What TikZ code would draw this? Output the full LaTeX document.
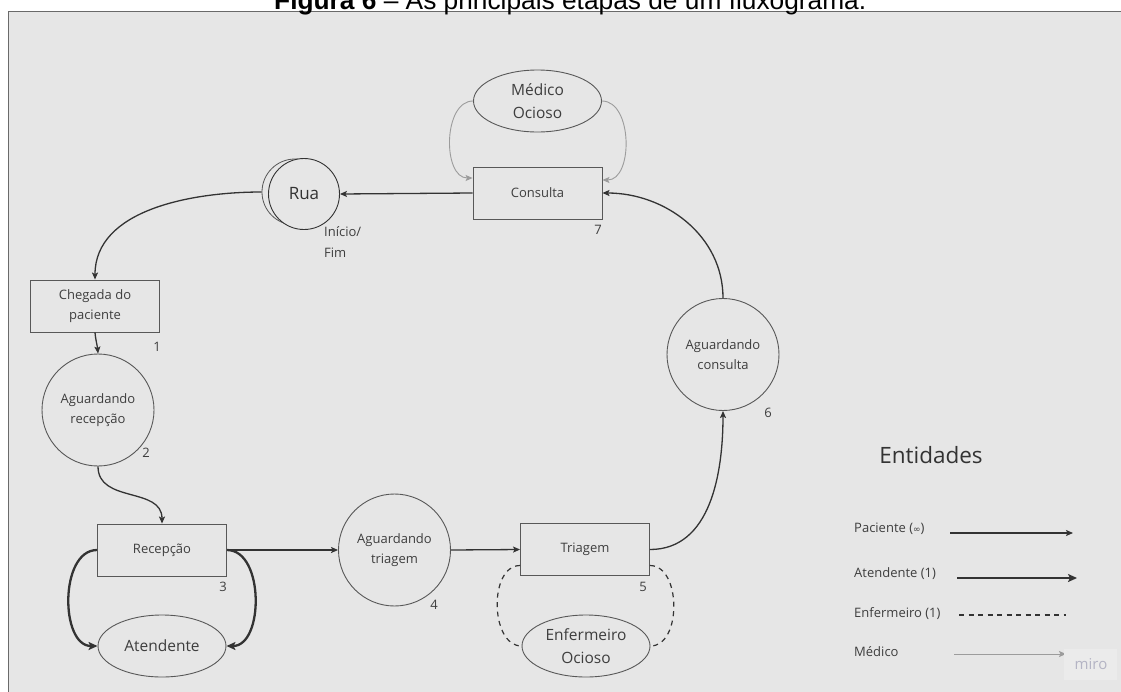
\documentclass[tikz,border=0pt]{standalone}
\usepackage{fontspec}
\setmainfont{Open Sans}
\newfontfamily\titlefont{Liberation Sans}
\newfontfamily\symbolfont{DejaVu Sans}
\usetikzlibrary{shapes.geometric,arrows.meta}

\definecolor{canvas}{HTML}{E6E6E6}
\definecolor{framecol}{HTML}{6A6A6A}
\definecolor{ink}{HTML}{333333}
\definecolor{outline}{HTML}{585858}
\definecolor{label}{HTML}{3E3E3E}
\definecolor{doctorline}{HTML}{9C9C9C}
\definecolor{wmark}{HTML}{B4B4C4}
\definecolor{wmarkbg}{HTML}{EBEBEB}

\tikzset{
  base/.style={text=label, font=\fontsize{13}{20}\selectfont, align=center, inner sep=0pt},
  proc/.style={base, rectangle, draw=outline, line width=0.9pt,
    minimum width=129pt, minimum height=52pt},
  ring/.style={base, circle, draw=outline, line width=0.9pt, minimum size=112pt},
  resource/.style={base, ellipse, draw=outline, line width=0.9pt,
    minimum width=128pt, minimum height=62pt, font=\fontsize{15.5}{23}\selectfont},
  num/.style={text=label, font=\fontsize{13}{16}\selectfont, inner sep=0pt},
  legendtext/.style={text=label, font=\fontsize{13}{16}\selectfont, inner sep=0pt, anchor=west},
  tip/.style={-{Stealth[length=7pt,width=6pt,inset=1.5pt]}},
  pflow/.style={tip, draw=ink, line width=1.3pt},
  aflow/.style={-{Stealth[length=9pt,width=8pt,inset=2pt]}, draw=ink, line width=2.3pt},
  nflow/.style={draw=ink, line width=1.2pt, dash pattern=on 5pt off 4.5pt},
  mflow/.style={tip, draw=doctorline, line width=0.9pt},
}

\begin{document}
\begin{tikzpicture}[x=1pt,y=-1pt]
\useasboundingbox (0,0) rectangle (1121,691);
\clip (0,0) rectangle (1121,691);
\fill[white] (0,0) rectangle (1121,691);

% board
\fill[canvas] (8.5,11.5) rectangle (1130,700);
\draw[framecol, line width=1pt] (8.5,700) -- (8.5,11.5) -- (1130,11.5);

% caption
\node[anchor=base west, inner sep=0pt, text=black,
  font=\titlefont\fontsize{26.3}{30}\selectfont] (caption) at (274,9)
  {\textbf{Figura 6} – As principais etapas de um fluxograma.};

% top: consultation and street
\node[proc] (consulta) at (537.5,193) {Consulta};
\node[resource] (medico) at (537.5,101) {Médico\\Ocioso};
\node[circle, draw=outline, line width=0.8pt, minimum size=66pt] (ruaback) at (295,192) {};
\node[circle, draw=ink, line width=0.9pt, fill=canvas, minimum size=71pt,
  text=ink, font=\fontsize{17}{20}\selectfont] (rua) at (304,194) {Rua};
\node[base, anchor=north west, align=left, font=\fontsize{13}{21}\selectfont] (iniciofim) at (324,226) {Início/\\Fim};

% left column
\node[proc] (chegada) at (95,306) {Chegada do\\paciente};
\node[ring] (agrec) at (98,410) {Aguardando\\recepção};

% bottom row
\node[proc] (recepcao) at (162,550) {Recepção};
\node[resource] (atendente) at (162,646) {Atendente};
\node[ring] (agtri) at (394.5,550) {Aguardando\\triagem};
\node[proc] (triagem) at (585,549.5) {Triagem};
\node[resource] (enfermeiro) at (586,646) {Enfermeiro\\Ocioso};

% right side
\node[ring] (agcons) at (723,354.5) {Aguardando\\consulta};

% step numbers
\node[num] (n1) at (157,347) {1};
\node[num] (n2) at (146,453) {2};
\node[num] (n3) at (223,587) {3};
\node[num] (n4) at (434,605) {4};
\node[num] (n5) at (643,587) {5};
\node[num] (n6) at (768,413) {6};
\node[num] (n7) at (598,230) {7};

% patient flow
\draw[pflow] (consulta.west) -- (rua.east);
\draw[pflow] (ruaback.west) to[out=180,in=90,looseness=0.95] (chegada.north);
\draw[pflow] (chegada.south) to[out=-85,in=95] (agrec.north);
\draw[pflow] (agrec.south) to[out=-90,in=90,looseness=1.1] (recepcao.north);
\draw[pflow] (recepcao.east) -- (agtri.west);
\draw[pflow] (agtri.east) -- (triagem.west);
\draw[pflow] (triagem.east) to[out=0,in=-90] (agcons.south);
\draw[pflow] (agcons.north) to[out=90,in=0] (consulta.east);

% receptionist loop
\draw[aflow] (recepcao.west) to[out=180,in=180,looseness=1.0] (atendente.west);
\draw[aflow] (recepcao.east) to[out=0,in=0,looseness=1.0] (atendente.east);

% nurse loop
\draw[nflow] ([yshift=-16pt]triagem.west) to[out=180,in=180,looseness=1.0] (enfermeiro.west);
\draw[nflow] ([yshift=-16pt]triagem.east) to[out=0,in=0,looseness=1.0] (enfermeiro.east);

% doctor loop
\draw[mflow] (medico.west) to[out=180,in=180,looseness=1.0] ([yshift=15pt]consulta.west);
\draw[mflow] (medico.east) to[out=0,in=0,looseness=1.0] ([yshift=13pt]consulta.east);

% legend
\node[text=ink, font=\fontsize{22.5}{26}\selectfont, inner sep=0pt] (entidades) at (931,455) {Entidades};
\node[legendtext] (lpac) at (854,529) {Paciente ({\symbolfont\fontsize{9}{10}\selectfont ∞})};
\node[legendtext] (laten) at (854,574) {Atendente (1)};
\node[legendtext] (lenf) at (854,614) {Enfermeiro (1)};
\node[legendtext] (lmed) at (854,652) {Médico};
\coordinate (pacA) at (950,533);   \coordinate (pacB) at (1073,533);
\coordinate (atenA) at (957,578);  \coordinate (atenB) at (1077,578);
\coordinate (enfA) at (959,615);   \coordinate (enfB) at (1066,615);
\coordinate (medA) at (954,654);   \coordinate (medB) at (1066,654);
\draw[pflow] (pacA) -- (pacB);
\draw[aflow] (atenA) -- (atenB);
\draw[nflow] (enfA) -- (enfB);
\draw[mflow] (medA) -- (medB);

% watermark
\fill[wmarkbg] (1064,649) rectangle (1117,680);
\node[text=wmark, font=\fontsize{15}{18}\selectfont, inner sep=0pt] (miro) at (1091,664) {miro};
\end{tikzpicture}
\end{document}
